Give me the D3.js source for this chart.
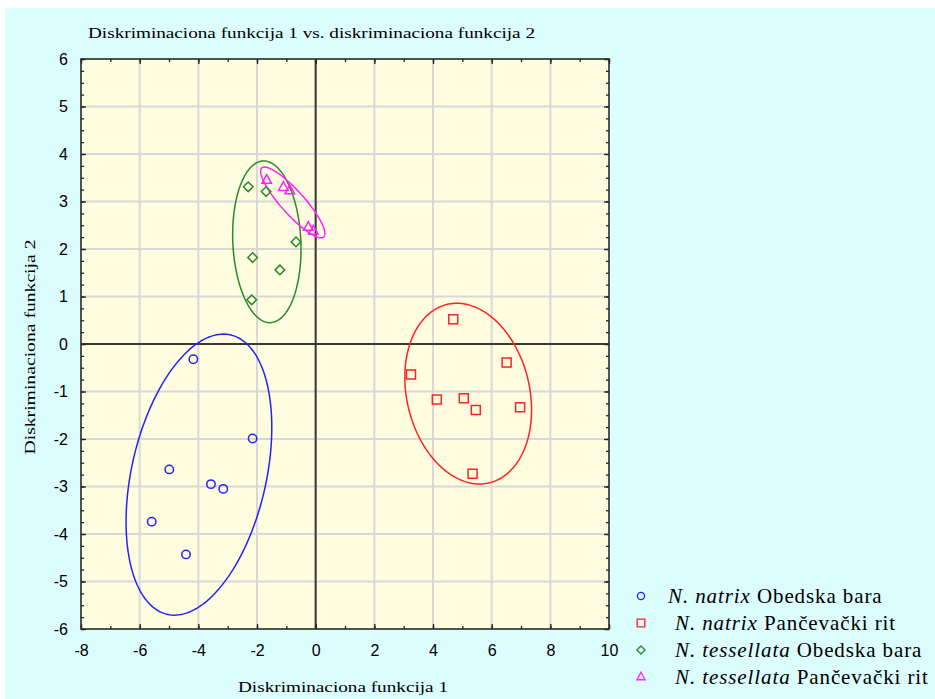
<!DOCTYPE html>
<html>
<head>
<meta charset="utf-8">
<script src="https://cdn.jsdelivr.net/npm/d3@7"></script>
<style>
  body { margin: 0; background: #ffffff; }
  svg { display: block; }
  .serif { font-family: "Liberation Serif", "Times New Roman", serif; fill: #000; }
  .ticklab text { font-family: "Liberation Sans", Arial, sans-serif; font-size: 16px; fill: #000; }
</style>
</head>
<body>
<svg id="chart" width="935" height="699"></svg>
<script>
// ---- data -------------------------------------------------------------
const xTickValues = [-8, -6, -4, -2, 0, 2, 4, 6, 8, 10];
const yTickValues = [-6, -5, -4, -3, -2, -1, 0, 1, 2, 3, 4, 5, 6];

const groupSpecies = ["N. natrix", "N. natrix", "N. tessellata", "N. tessellata"];
const groupSites   = ["Obedska bara", "Pančevački rit", "Obedska bara", "Pančevački rit"];
const groupColors  = ["#2222ff", "#ff2222", "#2a8a2a", "#ff22ff"];
const groupSymbols = ["circle", "square", "diamond", "triangle"];

// discriminant scores (function 1, function 2)
const natrixObedska = [[-4.17, -0.32], [-2.15, -1.99], [-4.99, -2.64], [-3.57, -2.95],
                       [-3.15, -3.05], [-5.59, -3.74], [-4.42, -4.43]];
const natrixPancevo = [[4.69, 0.52], [6.51, -0.39], [3.25, -0.64], [4.13, -1.17],
                       [5.05, -1.14], [5.46, -1.39], [6.97, -1.33], [5.35, -2.73]];
const tessellataObedska = [[-2.30, 3.31], [-1.69, 3.21], [-0.67, 2.15], [-2.15, 1.82],
                           [-1.22, 1.56], [-2.18, 0.93]];
const tessellataPancevo = [[-1.67, 3.45], [-1.10, 3.30], [-0.88, 3.23], [-0.25, 2.46],
                           [-0.08, 2.38]];
const groupPoints = [natrixObedska, natrixPancevo, tessellataObedska, tessellataPancevo];

// confidence ellipses: centre, half extent along each axis, correlation (tilt)
const ellipseCenter = [[-3.98, -2.75], [5.20, -1.045], [-1.665, 2.151], [-0.78, 2.98]];
const ellipseHalfX  = [2.484, 2.16, 1.165, 1.096];
const ellipseHalfY  = [2.958, 1.902, 1.702, 0.745];
const ellipseCorr   = [0.336, -0.18, -0.09, -0.88];

// ---- layout -----------------------------------------------------------
const svg = d3.select("#chart");
const W = 935, H = 699;
const plot = { left: 81, right: 609, top: 59, bottom: 629 };

const x = d3.scaleLinear().domain([-8, 10]).range([plot.left, plot.right]);
const y = d3.scaleLinear().domain([-6, 6]).range([plot.bottom, plot.top]);

// backgrounds
svg.append("rect").attr("x", 5).attr("y", 8).attr("width", W - 5).attr("height", H - 8)
   .attr("fill", "#dcfdfd");
svg.append("rect").attr("x", plot.left).attr("y", plot.top)
   .attr("width", plot.right - plot.left).attr("height", plot.bottom - plot.top)
   .attr("fill", "#fefde0");

// grid at major ticks
const gGrid = svg.append("g").attr("stroke", "#d8d8d8").attr("stroke-width", 2);
gGrid.selectAll("line.gx").data(xTickValues.slice(1, -1)).join("line")
  .attr("x1", d => x(d)).attr("x2", d => x(d))
  .attr("y1", plot.top).attr("y2", plot.bottom);
gGrid.selectAll("line.gy").data(yTickValues.slice(1, -1)).join("line")
  .attr("y1", d => y(d)).attr("y2", d => y(d))
  .attr("x1", plot.left).attr("x2", plot.right);

// zero reference lines
const gZero = svg.append("g").attr("stroke", "#3a3a30").attr("stroke-width", 2);
gZero.append("line").attr("x1", x(0)).attr("x2", x(0)).attr("y1", plot.top).attr("y2", plot.bottom);
gZero.append("line").attr("y1", y(0)).attr("y2", y(0)).attr("x1", plot.left).attr("x2", plot.right);

// ---- ellipses ---------------------------------------------------------
const ellLine = d3.line().curve(d3.curveLinearClosed);
const tSteps = d3.range(0, 2 * Math.PI, Math.PI / 90);
const gEll = svg.append("g").attr("fill", "none").attr("stroke-width", 1.5);
groupColors.forEach((col, i) => {
  const [cx, cy] = ellipseCenter[i];
  const hx = ellipseHalfX[i], hy = ellipseHalfY[i], r = ellipseCorr[i];
  const s = Math.sqrt(1 - r * r);
  const pts = tSteps.map(t => [
    x(cx + hx * Math.cos(t)),
    y(cy + hy * (r * Math.cos(t) + s * Math.sin(t)))
  ]);
  gEll.append("path").attr("d", ellLine(pts)).attr("stroke", col);
});

// ---- markers ----------------------------------------------------------
function symbolPath(kind) {
  const p = d3.path();
  if (kind === "circle") { p.moveTo(4.2, 0); p.arc(0, 0, 4.2, 0, 2 * Math.PI); }
  else if (kind === "square") { p.rect(-4.5, -4.5, 9, 9); }
  else if (kind === "diamond") { p.moveTo(0, -4.8); p.lineTo(4.8, 0); p.lineTo(0, 4.8); p.lineTo(-4.8, 0); p.closePath(); }
  else { p.moveTo(0, -5.6); p.lineTo(4.8, 3.2); p.lineTo(-4.8, 3.2); p.closePath(); }
  return p.toString();
}

const gPts = svg.append("g").attr("fill", "none").attr("stroke-width", 1.5);
groupPoints.forEach((pts, i) => {
  gPts.selectAll(null).data(pts).join("path")
    .attr("d", symbolPath(groupSymbols[i]))
    .attr("transform", d => `translate(${x(d[0])},${y(d[1])})`)
    .attr("stroke", groupColors[i]);
});

// ---- frame and axes ---------------------------------------------------
const fmt = d => String(d);
const xMinor = d3.range(-8, 10.01, 1);
const yMinor = d3.range(-6, 6.01, 0.25);

function axisGroup(axis, tx, ty, cls) {
  const g = svg.append("g").attr("transform", `translate(${tx},${ty})`).call(axis);
  g.select(".domain").remove();
  g.selectAll(".tick line").attr("stroke", "#222").attr("stroke-width", 1.3);
  if (cls) g.attr("class", cls);
  return g;
}
// minor ticks (inward)
axisGroup(d3.axisBottom(x).tickValues(xMinor).tickSizeInner(-3).tickSizeOuter(0).tickFormat(""), 0, plot.bottom);
axisGroup(d3.axisTop(x).tickValues(xMinor).tickSizeInner(-3).tickSizeOuter(0).tickFormat(""), 0, plot.top);
axisGroup(d3.axisLeft(y).tickValues(yMinor).tickSizeInner(-3).tickSizeOuter(0).tickFormat(""), plot.left, 0);
axisGroup(d3.axisRight(y).tickValues(yMinor).tickSizeInner(-3).tickSizeOuter(0).tickFormat(""), plot.right, 0);
// major ticks with labels
axisGroup(d3.axisBottom(x).tickValues(xTickValues).tickSizeInner(-5).tickSizeOuter(0)
  .tickPadding(16).tickFormat(fmt), 0, plot.bottom, "ticklab");
axisGroup(d3.axisTop(x).tickValues(xTickValues).tickSizeInner(-5).tickSizeOuter(0).tickFormat(""), 0, plot.top);
axisGroup(d3.axisLeft(y).tickValues(yTickValues).tickSizeInner(-5).tickSizeOuter(0)
  .tickPadding(13).tickFormat(fmt), plot.left, 0, "ticklab");
axisGroup(d3.axisRight(y).tickValues(yTickValues).tickSizeInner(-5).tickSizeOuter(0).tickFormat(""), plot.right, 0);

svg.selectAll(".ticklab text").attr("font-family", null).attr("font-size", null);

svg.append("rect").attr("x", plot.left).attr("y", plot.top)
   .attr("width", plot.right - plot.left).attr("height", plot.bottom - plot.top)
   .attr("fill", "none").attr("stroke", "#2a2a2a").attr("stroke-width", 1.6);

// ---- titles -----------------------------------------------------------
svg.append("text").attr("class", "serif").attr("x", 88).attr("y", 38)
   .attr("font-size", 15.5).attr("textLength", 447).attr("lengthAdjust", "spacingAndGlyphs")
   .text("Diskriminaciona funkcija 1 vs. diskriminaciona funkcija 2");
svg.append("text").attr("class", "serif").attr("x", 343).attr("y", 692)
   .attr("text-anchor", "middle").attr("font-size", 15.5)
   .attr("textLength", 210).attr("lengthAdjust", "spacingAndGlyphs")
   .text("Diskriminaciona funkcija 1");
svg.append("text").attr("class", "serif")
   .attr("transform", `translate(35,347) rotate(-90)`)
   .attr("text-anchor", "middle").attr("font-size", 15.5)
   .attr("textLength", 215).attr("lengthAdjust", "spacingAndGlyphs")
   .text("Diskriminaciona funkcija 2");

// ---- legend -----------------------------------------------------------
const legendX = 641, legendY0 = 596, legendStep = 27;
const textX = [668, 675, 675, 675];
const gLeg = svg.append("g");
groupSpecies.forEach((sp, i) => {
  const yy = legendY0 + i * legendStep;
  gLeg.append("path").attr("d", symbolPath(groupSymbols[i]))
    .attr("transform", `translate(${legendX},${yy}) scale(0.85)`)
    .attr("fill", "none").attr("stroke", groupColors[i]).attr("stroke-width", 1.6);
  const t = gLeg.append("text").attr("class", "serif").attr("x", textX[i]).attr("y", yy + 7)
    .attr("font-size", 21).attr("letter-spacing", 0.9);
  t.append("tspan").attr("font-style", "italic").text(sp);
  t.append("tspan").text(" " + groupSites[i]);
});
</script>
</body>
</html>
